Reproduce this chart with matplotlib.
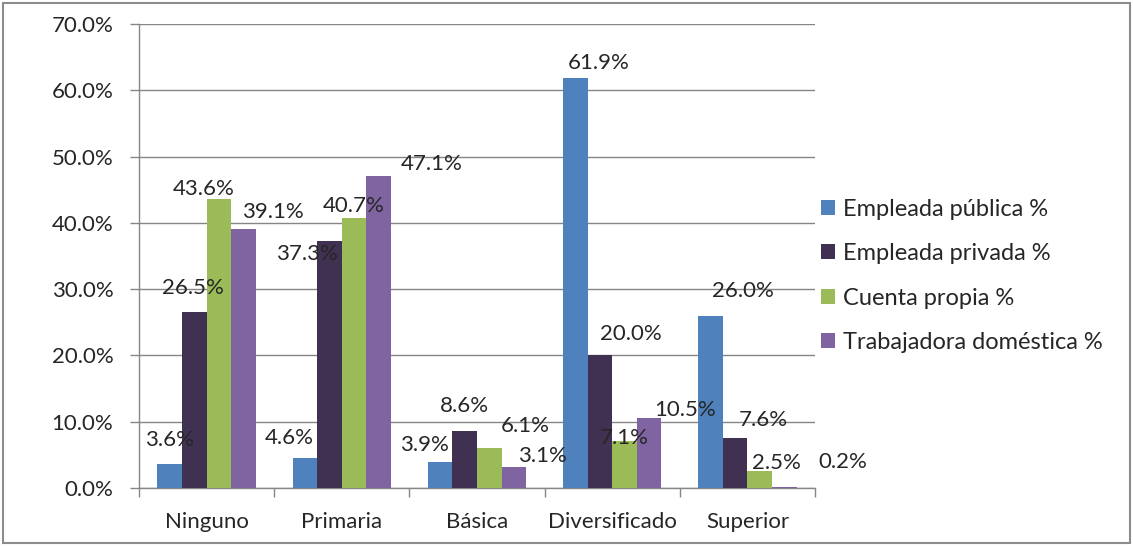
import matplotlib
matplotlib.use("Agg")
import matplotlib.pyplot as plt
import numpy as np
from matplotlib.patches import Rectangle

categories = ["Ninguno", "Primaria", "Básica", "Diversificado", "Superior"]
series_names = ["Empleada pública %", "Empleada privada %", "Cuenta propia %", "Trabajadora doméstica %"]
empleada_publica = [3.6, 4.6, 3.9, 61.9, 26.0]
empleada_privada = [26.5, 37.3, 8.6, 20.0, 7.6]
cuenta_propia = [43.6, 40.7, 6.1, 7.1, 2.5]
trabajadora_domestica = [39.1, 47.1, 3.1, 10.5, 0.2]
y_ticks = [0, 10, 20, 30, 40, 50, 60, 70]

series = [empleada_publica, empleada_privada, cuenta_propia, trabajadora_domestica]
colors = ["#4F81BD", "#403152", "#9BBB59", "#8064A2"]

# label offsets (pixels, x right, y down) relative to bar top centre, per series/category
label_dx = [[0, -16, -16, 23, 32],
            [-1, -23, 0, 31, 28],
            [-15, 0, 36, 0, 17],
            [29, 53, 29, 36, 59]]
label_dy = [[-24, -20, -17, -15, -25],
            [-24, 13, -25, -21, -18],
            [-10, -12, -22, -3, -8],
            [-17, -12, -11, -8, -25]]

plt.rcParams['font.family'] = ['Lato', 'DejaVu Sans']
TXT = "#262626"
GRID = "#868686"
FS = 16
LFS = 17

W, H = 1133, 546
fig = plt.figure(figsize=(W / 100, H / 100), dpi=100)
ax = fig.add_axes([139 / W, 1 - 488 / H, (815 - 139) / W, (488 - 24) / H])

n_cat = len(categories)
bw = 1 / 5.5
x = np.arange(n_cat) + 0.5
px2pt = 0.72
for j, (vals, col, name) in enumerate(zip(series, colors, series_names)):
    pos = x + (j - 1.5) * bw
    ax.bar(pos, vals, width=bw, color=col, label=name, zorder=3)
    for i, v in enumerate(vals):
        ax.annotate(f"{v:.1f}%", (pos[i], v),
                    xytext=(label_dx[j][i] * px2pt, -label_dy[j][i] * px2pt),
                    textcoords="offset points", ha="center", va="center",
                    fontsize=FS, color=TXT, zorder=5)

ax.set_xlim(0, n_cat)
ax.set_ylim(0, 70)
ax.set_yticks(y_ticks)
ax.set_yticklabels([f"{t:.1f}%" for t in y_ticks])
ax.set_xticks(x)
ax.set_xticklabels(categories)
ax.set_xticks(np.arange(n_cat + 1), minor=True)
ax.tick_params(axis="x", which="major", length=0, pad=17, labelsize=FS, labelcolor=TXT)
ax.tick_params(axis="x", which="minor", length=6.5, width=1, color=GRID, direction="out")
ax.tick_params(axis="y", length=6.5, width=1, color=GRID, pad=12, labelsize=FS, labelcolor=TXT)
ax.yaxis.grid(True, color=GRID, linewidth=1, zorder=0)
for s in ["top", "right"]:
    ax.spines[s].set_visible(False)
for s in ["left", "bottom"]:
    ax.spines[s].set_color(GRID)
    ax.spines[s].set_linewidth(1)
ax.set_axisbelow(True)

fig.legend(loc="center left", bbox_to_anchor=(821 / W, 1 - 276 / H), frameon=False,
           fontsize=LFS, handlelength=0.6, handleheight=0.6, handletextpad=0.35,
           labelspacing=0.99, borderpad=0, borderaxespad=0, labelcolor=TXT)

fig.patches.append(Rectangle((3 / W, 3 / H), (W - 6) / W, (H - 6) / H, transform=fig.transFigure,
                             fill=False, edgecolor="#8C8C8C", linewidth=1.5))

fig.savefig("out.png", dpi=100)
